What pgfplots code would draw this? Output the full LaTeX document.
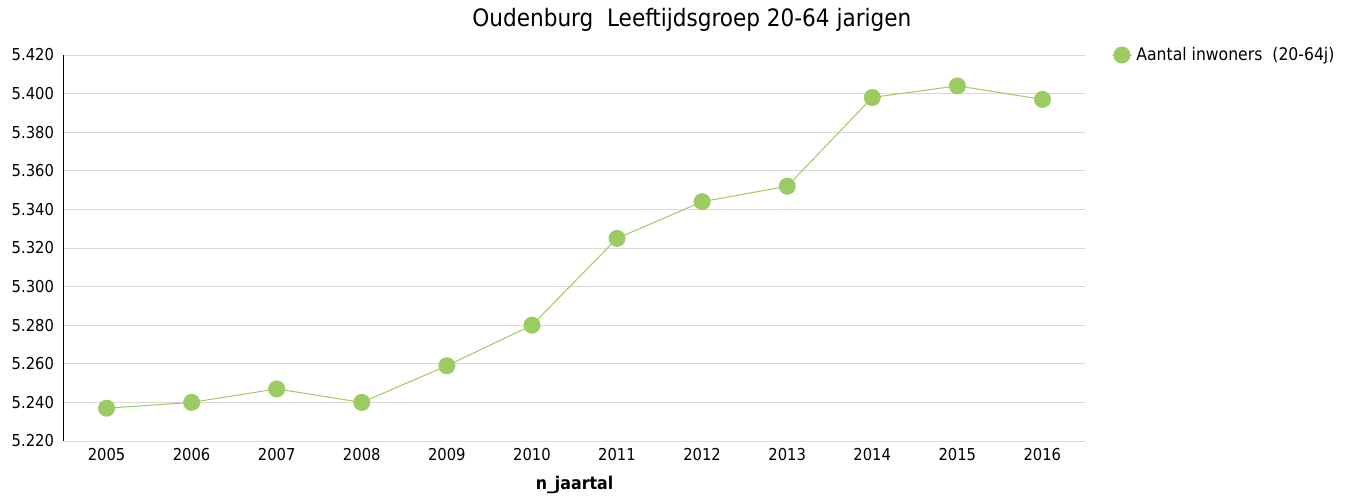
\documentclass[border=0pt]{standalone}
\usepackage{fontspec}
\setmainfont{DejaVu Sans Condensed}
\usepackage{pgfplots}
\pgfplotsset{compat=1.18}
\definecolor{appelgroen}{HTML}{9BCB62}
\definecolor{rastergrijs}{HTML}{D9D9D9}
\begin{document}
\begin{tikzpicture}
\useasboundingbox (-32pt,-27pt) rectangle (644pt,220.5pt);
\begin{axis}[name=ax,at={(0,0)},anchor=south west,scale only axis,width=510.5pt,height=193pt,
  xmin=2004.5,xmax=2016.5,ymin=5220,ymax=5420,
  xtick={2005,...,2016},ytick={5220,5240,...,5420},
  xticklabel style={/pgf/number format/1000 sep={}},
  yticklabel style={xshift=-1.5pt,/pgf/number format/.cd,fixed,1000 sep={.},min exponent for 1000 sep=0},
  /pgf/number format/assume math mode=true,
  tick label style={font=\fontsize{8.2}{10}\selectfont},
  major tick length=0pt,
  axis x line*=bottom,axis y line*=left,
  x axis line style={draw=none},
  y axis line style={black,line width=0.5pt},
  ymajorgrids,grid style={rastergrijs,line width=0.5pt},
  xlabel={\textbf{n\_jaartal}},
  xlabel style={font=\fontsize{8.8}{10}\selectfont,at={(axis description cs:0.5,0)},anchor=center,yshift=-22pt},
  title={Oudenburg\ \ Leeftijdsgroep 20-64 jarigen},
  title style={font=\fontsize{12}{14}\selectfont,at={(axis description cs:0.615,1)},anchor=center,yshift=11.5pt},
  legend style={draw=none,fill=none,font=\fontsize{8.7}{10}\selectfont,at={(axis description cs:1,1)},anchor=west,xshift=10pt},
  legend image code/.code={\draw[mark repeat=2,mark phase=2] plot coordinates {(0pt,0pt)(5pt,0pt)(10pt,0pt)};},
  clip=false]
\addplot[appelgroen,line width=0.5pt,mark=*,mark size=4pt,mark options={fill=appelgroen,draw=appelgroen}] coordinates {
(2005,5237) (2006,5240) (2007,5247) (2008,5240) (2009,5259) (2010,5280)
(2011,5325) (2012,5344) (2013,5352) (2014,5398) (2015,5404) (2016,5397)};
\addlegendentry{Aantal inwoners\ \ (20-64j)}
\end{axis}
\end{tikzpicture}
\end{document}
